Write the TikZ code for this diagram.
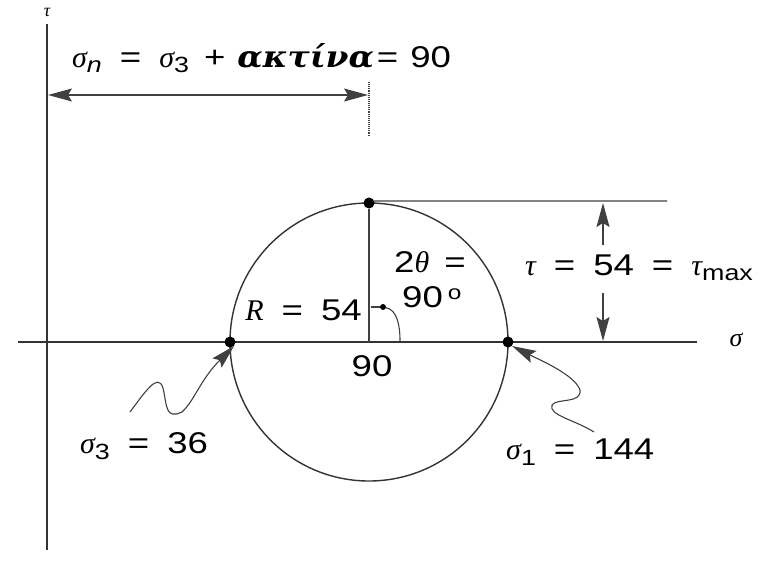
\documentclass[tikz,border=0pt]{standalone}
\usepackage{fontspec}
\setmainfont{Liberation Sans}[FakeStretch=1.22]
\newfontfamily\grfont{Liberation Serif}
\newfontfamily\grwide{DejaVu Serif}[FakeStretch=1.1]
\usetikzlibrary{arrows.meta}
\newcommand\mysig{{\grfont\itshape σ}}
\newcommand\mytau{{\grfont\itshape τ}}
\newcommand\mysub[1]{\raisebox{-0.35ex}{\fontsize{22}{22}\selectfont #1}}
\newcommand\eqs{\hspace{0.6em}=\hspace{0.6em}}
\begin{document}
\begin{tikzpicture}[x=1pt,y=-1pt,
  ln/.style={line width=1.4pt,draw=black!80},
  cline/.style={line width=1.1pt,draw=black!75},
  dotnode/.style={circle,fill=black,inner sep=0pt,minimum size=11pt},
  lbl/.style={inner sep=0pt,font=\fontsize{30}{34}\selectfont},
  tip/.tip={Stealth[length=24pt,width=13pt,inset=4pt]},
  arr/.style={-tip},
  darr/.style={tip-tip}]
\useasboundingbox (0,0) rectangle (775,573);
% axes
\coordinate (tb) at (47,550);
\coordinate (tt) at (47,24);
\coordinate (sl) at (18,342);
\coordinate (sr) at (697,342);
\draw[ln] (tb) -- (tt);
\draw[ln] (sl) -- (sr);
\node[inner sep=0pt,font=\fontsize{18}{20}\selectfont] (taulbl) at (47,12) {\mytau};
\node[inner sep=0pt,font=\fontsize{26}{28}\selectfont] (siglbl) at (736,340) {\mysig};
% circle
\coordinate (C) at (369,342);
\draw[ln] (C) circle[radius=139];
\node[dotnode] (top) at (369,203) {};
\node[dotnode] (left) at (230,342) {};
\node[dotnode] (right) at (508,342) {};
\draw[cline] (C) -- (top);
% top horizontal line
\coordinate (topr) at (667,201);
\draw[cline] (top.north east) ++(0,2) -- (topr);
% right dimension
\coordinate (d1) at (603,245);
\coordinate (d1t) at (603,203);
\coordinate (d2) at (603,293);
\coordinate (d2b) at (603,341);
\draw[cline,arr] (d1) -- (d1t);
\draw[cline,arr] (d2) -- (d2b);
\node[lbl,anchor=west] (taulabel) at (525,268) {\mytau\eqs 54\eqs \mytau\mysub{max}};
% top dimension
\coordinate (da) at (48,95);
\coordinate (db) at (368,95);
\draw[cline,darr] (da) -- (db);
\coordinate (tk1) at (369,82);
\coordinate (tk2) at (369,135);
\draw[cline,densely dotted] (tk1) -- (tk2);
\node[lbl,anchor=west] (sn) at (72,58) {\mysig\mysub{\itshape n}\eqs \mysig\mysub{3}\hspace{0.5em}+\hspace{0.4em}{\grwide\itshape\bfseries ακτίνα}\hspace{0.1em}=\hspace{0.4em}90};
% angle
\coordinate (angs) at (371,307);
\node[circle,fill=black,inner sep=0pt,minimum size=6pt] (angdot) at (383,307) {};
\coordinate (ange) at (400,341);
\draw[cline] (angs) -- (angdot);
\draw[cline] (angdot) .. controls (397,310) and (400,325) .. (ange);
\node[lbl,anchor=east] (R) at (362,310) {{\grfont\itshape R}\eqs 54};
\node[lbl,anchor=west] (th) at (394,262) {2{\grfont\itshape θ}\hspace{0.5em}=};
\node[lbl,anchor=west] (deg) at (402,297) {90\,\raisebox{0.5ex}{\fontsize{20}{20}\selectfont o}};
\node[lbl] (ninety) at (372,366) {90};
% labels
\node[lbl,anchor=west] (s3) at (80,446) {\mysig\mysub{3}\eqs 36};
\node[lbl,anchor=west] (s1) at (506,452) {\mysig\mysub{1}\eqs 144};
% squiggle arrows
\coordinate (q1) at (130,412);
\draw[cline,arr] (q1) .. controls (145,392) and (158,372) .. (163,388)
  .. controls (167,405) and (165,420) .. (182,412)
  .. controls (195,400) and (200,380) .. (left.south east);
\coordinate (q2) at (594,432);
\draw[cline,arr] (q2) .. controls (575,420) and (548,415) .. (552,405)
  .. controls (556,398) and (582,404) .. (580,390)
  .. controls (575,375) and (540,360) .. (right.south east);
\end{tikzpicture}
\end{document}
